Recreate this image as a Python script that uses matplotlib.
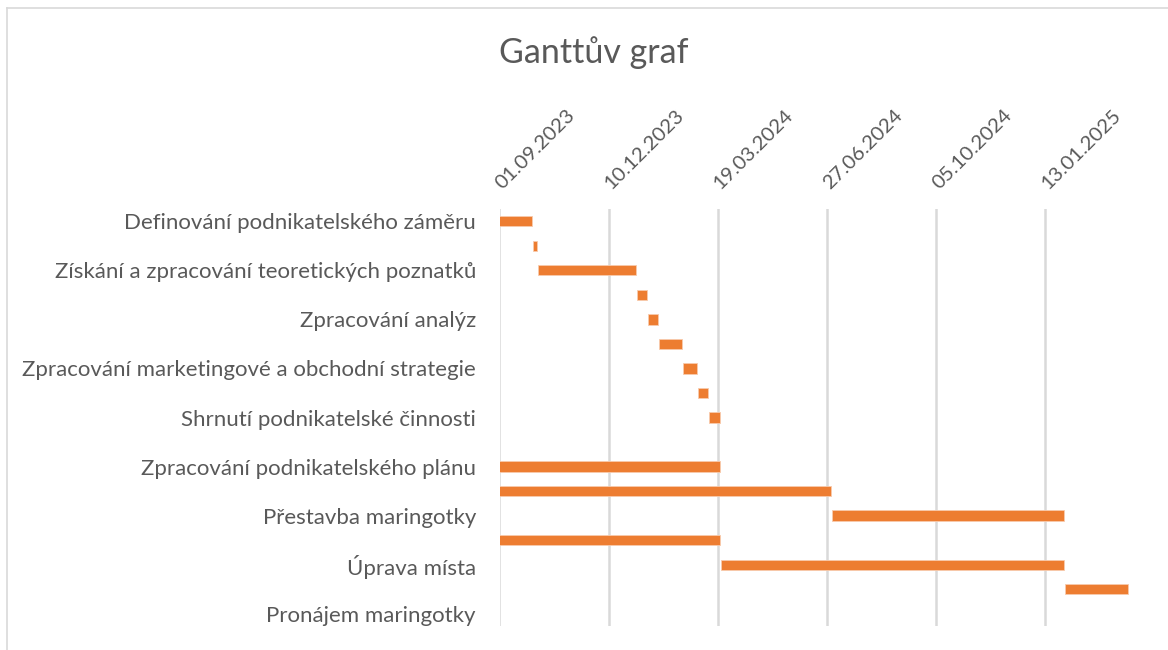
import datetime as dt
import matplotlib
matplotlib.use("Agg")
import matplotlib.pyplot as plt
import matplotlib.dates as mdates
from matplotlib.lines import Line2D

# rows top -> bottom (Excel shows only every second category label)
tasks = [
    "Definování podnikatelského záměru", "",
    "Získání a zpracování teoretických poznatků", "",
    "Zpracování analýz", "",
    "Zpracování marketingové a obchodní strategie", "",
    "Shrnutí podnikatelské činnosti", "",
    "Zpracování podnikatelského plánu", "",
    "Přestavba maringotky", "",
    "Úprava místa", "",
    "Pronájem maringotky",
]
starts = [
    "01.09.2023", "02.10.2023", "06.10.2023", "05.01.2024", "15.01.2024",
    "25.01.2024", "16.02.2024", "01.03.2024", "11.03.2024", None,
    "01.09.2023", "01.09.2023", "02.07.2024", "01.09.2023", "22.03.2024",
    "31.01.2025", None,
]
durations = [30, 3, 90, 9, 9, 21, 13, 9, 10, 0, 202, 304, 212, 202, 314, 58, 0]
tick_dates = ["01.09.2023", "10.12.2023", "19.03.2024", "27.06.2024",
              "05.10.2024", "13.01.2025"]
x_min, x_max = "01.09.2023", "23.04.2025"

def d(s):
    return mdates.date2num(dt.datetime.strptime(s, "%d.%m.%Y"))

plt.rcParams['font.family'] = ['Lato', 'DejaVu Sans']
txt = '#595959'

fig = plt.figure(figsize=(11.68, 6.5), dpi=100)
ax = fig.add_axes([499.5 / 1168, 1 - 626 / 650, 655 / 1168, 417 / 650])

for i, (s, dur) in enumerate(zip(starts, durations)):
    if s is None:
        continue
    ax.barh(i, dur, left=d(s), height=0.42, color='#ED7D31',
            edgecolor='#F8CBAD', linewidth=0.6, zorder=3)

ax.set_ylim(len(tasks) - 0.5, -0.5)
ax.set_xlim(d(x_min), d(x_max))
ax.set_yticks(range(len(tasks)))
ax.set_yticklabels(tasks, fontsize=16, color=txt)
ax.tick_params(axis='y', length=0, pad=17)

ax.xaxis.tick_top()
ax.set_xticks([d(t) for t in tick_dates])
labels = ax.set_xticklabels(tick_dates, fontsize=14.7, color=txt, rotation=45,
                            ha='left', va='bottom', rotation_mode='anchor')
ax.tick_params(axis='x', length=0, pad=12)
# nudge the rotated labels a few pixels right, as in the original
import matplotlib.transforms as mtrans
for lab in labels:
    lab.set_transform(lab.get_transform() +
                      mtrans.ScaledTranslation(5 / 100, 0, fig.dpi_scale_trans))
ax.grid(axis='x', color='#D9D9D9', linewidth=1.8, zorder=0)

for sp in ax.spines.values():
    sp.set_visible(False)

fig.text(594 / 1168, 1 - 53 / 650, "Ganttův graf", fontsize=24.5, color=txt,
         ha='center', va='center')

# chart border
fig.add_artist(Line2D([7 / 1168, 7 / 1168], [0, 1 - 8 / 650],
                      color='#D9D9D9', linewidth=1.2))
fig.add_artist(Line2D([7 / 1168, 1], [1 - 8 / 650, 1 - 8 / 650],
                      color='#D9D9D9', linewidth=1.2))

fig.savefig("out.png", dpi=100)
